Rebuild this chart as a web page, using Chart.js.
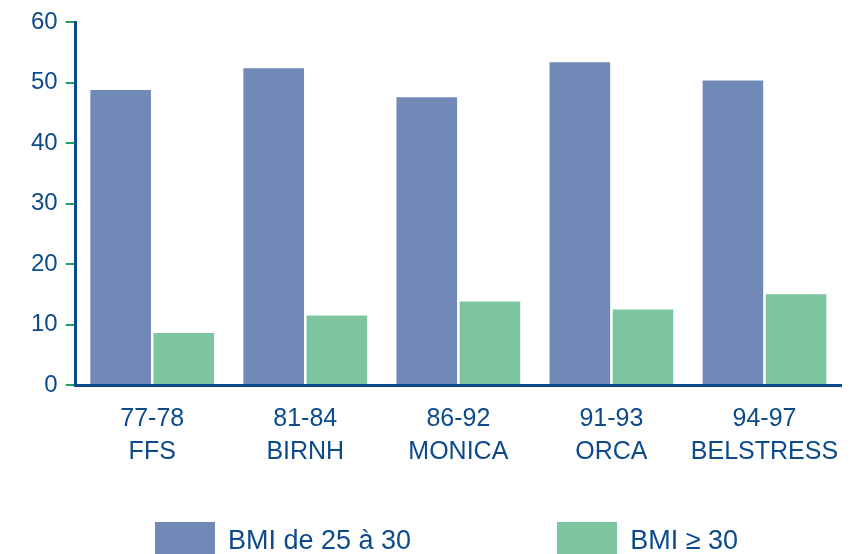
<!DOCTYPE html>
<html>
<head>
<meta charset="utf-8">
<script src="https://cdn.jsdelivr.net/npm/chart.js@4.4.1/dist/chart.umd.min.js"></script>
<style>
  html, body { margin: 0; padding: 0; background: #fff; overflow: hidden; }
  .wrap { position: relative; width: 856px; height: 554px; }
  #legend { position: absolute; left: 155px; top: 522px; display: flex; gap: 146px;
            font-family: "Liberation Sans", Arial, sans-serif; font-size: 27px; color: #0c4a8b; }
  #legend .item { display: flex; align-items: center; white-space: nowrap; }
  #legend .box { width: 60px; height: 36px; margin-right: 13px; }
</style>
</head>
<body>
<div class="wrap">
  <canvas id="bmiChart" width="856" height="554"></canvas>
  <div id="legend"></div>
</div>
<script>
// data
const categories = [['77-78', 'FFS'], ['81-84', 'BIRNH'], ['86-92', 'MONICA'], ['91-93', 'ORCA'], ['94-97', 'BELSTRESS']];
const overweight = [48.8, 52.4, 47.6, 53.4, 50.4];
const obese = [8.6, 11.5, 13.8, 12.5, 15.0];
const seriesLabels = ['BMI de 25 à 30', 'BMI ≥ 30'];

const textBlue = '#0c4a8b';
const tickGreen = '#1ba35c';

// html legend built from the chart's own legend items
const htmlLegend = {
    id: 'htmlLegend',
    afterUpdate(chart) {
        const box = document.getElementById('legend');
        box.innerHTML = '';
        chart.options.plugins.legend.labels.generateLabels(chart).forEach(item => {
            const el = document.createElement('div');
            el.className = 'item';
            const sw = document.createElement('span');
            sw.className = 'box';
            sw.style.background = item.fillStyle;
            const txt = document.createElement('span');
            txt.textContent = item.text;
            el.appendChild(sw);
            el.appendChild(txt);
            box.appendChild(el);
        });
    }
};

const ctx = document.getElementById('bmiChart').getContext('2d');
new Chart(ctx, {
    type: 'bar',
    data: {
        labels: categories,
        datasets: [{
            label: seriesLabels[0],
            data: overweight,
            backgroundColor: '#7189b6'
        }, {
            label: seriesLabels[1],
            data: obese,
            backgroundColor: '#7cc59f'
        }]
    },
    options: {
        responsive: false,
        animation: false,
        categoryPercentage: 0.825,
        barPercentage: 0.96,
        layout: {
            padding: { top: 20, right: 15, left: 23, bottom: 75 }
        },
        plugins: {
            legend: { display: false },
            tooltip: { enabled: false }
        },
        scales: {
            x: {
                z: 1,
                grid: { display: false },
                border: { display: true, color: textBlue, width: 3 },
                ticks: {
                    color: textBlue,
                    padding: 10,
                    maxRotation: 0,
                    minRotation: 0,
                    autoSkip: false,
                    font: { family: 'Liberation Sans', size: 25, lineHeight: 1.32 }
                }
            },
            y: {
                z: 1,
                min: 0,
                max: 60,
                grid: {
                    drawOnChartArea: false,
                    drawTicks: true,
                    tickLength: 10,
                    tickColor: tickGreen,
                    lineWidth: 2
                },
                border: { display: true, color: textBlue, width: 3 },
                ticks: {
                    stepSize: 10,
                    color: textBlue,
                    padding: 8,
                    font: { family: 'Liberation Sans', size: 24 }
                }
            }
        }
    },
    plugins: [htmlLegend]
});
</script>
</body>
</html>
